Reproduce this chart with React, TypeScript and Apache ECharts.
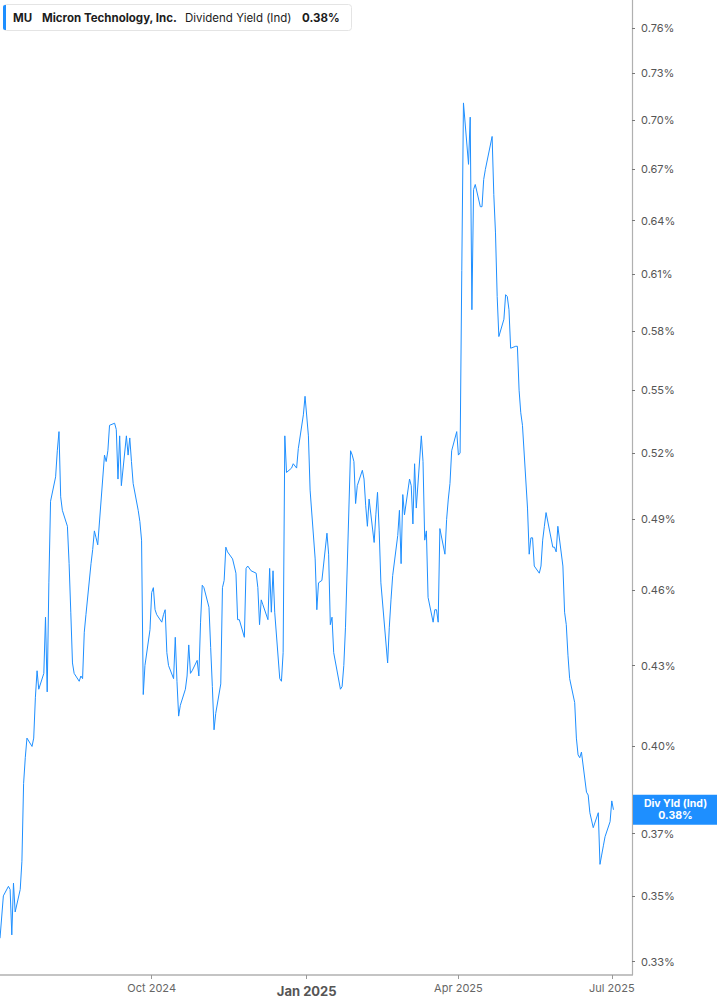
import {useEffect, useRef} from 'react';
import * as echarts from 'echarts';

// trading days, Jul 2024 - Jul 2025
const dates = [
    '2024-07-03', '2024-07-05', '2024-07-08', '2024-07-09', '2024-07-10', '2024-07-11', '2024-07-12',
    '2024-07-15', '2024-07-16', '2024-07-17', '2024-07-18', '2024-07-19', '2024-07-22', '2024-07-23',
    '2024-07-24', '2024-07-25', '2024-07-26', '2024-07-29', '2024-07-30', '2024-07-31',
    '2024-08-01', '2024-08-02', '2024-08-05', '2024-08-06', '2024-08-07', '2024-08-08', '2024-08-09',
    '2024-08-12', '2024-08-13', '2024-08-14', '2024-08-15', '2024-08-16', '2024-08-19', '2024-08-20',
    '2024-08-21', '2024-08-22', '2024-08-23', '2024-08-26', '2024-08-27', '2024-08-28', '2024-08-29',
    '2024-08-30',
    '2024-09-03', '2024-09-04', '2024-09-05', '2024-09-06', '2024-09-09', '2024-09-10', '2024-09-11',
    '2024-09-12', '2024-09-13', '2024-09-16', '2024-09-17', '2024-09-18', '2024-09-19', '2024-09-20',
    '2024-09-23', '2024-09-24', '2024-09-25', '2024-09-26', '2024-09-27', '2024-09-30',
    '2024-10-01', '2024-10-02', '2024-10-03', '2024-10-04', '2024-10-07', '2024-10-08', '2024-10-09',
    '2024-10-10', '2024-10-11', '2024-10-14', '2024-10-15', '2024-10-16', '2024-10-17', '2024-10-18',
    '2024-10-21', '2024-10-22', '2024-10-23', '2024-10-24', '2024-10-25', '2024-10-28', '2024-10-29',
    '2024-10-30', '2024-10-31',
    '2024-11-01', '2024-11-04', '2024-11-05', '2024-11-06', '2024-11-07', '2024-11-08', '2024-11-11',
    '2024-11-12', '2024-11-13', '2024-11-14', '2024-11-15', '2024-11-18', '2024-11-19', '2024-11-20',
    '2024-11-21', '2024-11-22', '2024-11-25', '2024-11-26', '2024-11-27', '2024-11-29',
    '2024-12-02', '2024-12-03', '2024-12-04', '2024-12-05', '2024-12-06', '2024-12-09', '2024-12-10',
    '2024-12-11', '2024-12-12', '2024-12-13', '2024-12-16', '2024-12-17', '2024-12-18', '2024-12-19',
    '2024-12-20', '2024-12-23', '2024-12-24', '2024-12-26', '2024-12-27', '2024-12-30', '2024-12-31',
    '2025-01-02', '2025-01-03', '2025-01-06', '2025-01-07', '2025-01-08', '2025-01-10', '2025-01-13',
    '2025-01-14', '2025-01-15', '2025-01-16', '2025-01-17', '2025-01-21', '2025-01-22', '2025-01-23',
    '2025-01-24', '2025-01-27', '2025-01-28', '2025-01-29', '2025-01-30', '2025-01-31',
    '2025-02-03', '2025-02-04', '2025-02-05', '2025-02-06', '2025-02-07', '2025-02-10', '2025-02-11',
    '2025-02-12', '2025-02-13', '2025-02-14', '2025-02-18', '2025-02-19', '2025-02-20', '2025-02-21',
    '2025-02-24', '2025-02-25', '2025-02-26', '2025-02-27', '2025-02-28',
    '2025-03-03', '2025-03-04', '2025-03-05', '2025-03-06', '2025-03-07', '2025-03-10', '2025-03-11',
    '2025-03-12', '2025-03-13', '2025-03-14', '2025-03-17', '2025-03-18', '2025-03-19', '2025-03-20',
    '2025-03-21', '2025-03-24', '2025-03-25', '2025-03-26', '2025-03-27', '2025-03-28', '2025-03-31',
    '2025-04-01', '2025-04-02', '2025-04-03', '2025-04-04', '2025-04-07', '2025-04-08', '2025-04-09',
    '2025-04-10', '2025-04-11', '2025-04-14', '2025-04-15', '2025-04-16', '2025-04-17', '2025-04-21',
    '2025-04-22', '2025-04-23', '2025-04-24', '2025-04-25', '2025-04-28', '2025-04-29', '2025-04-30',
    '2025-05-01', '2025-05-02', '2025-05-05', '2025-05-06', '2025-05-07', '2025-05-08', '2025-05-09',
    '2025-05-12', '2025-05-13', '2025-05-14', '2025-05-15', '2025-05-16', '2025-05-19', '2025-05-20',
    '2025-05-21', '2025-05-22', '2025-05-23', '2025-05-27', '2025-05-28', '2025-05-29', '2025-05-30',
    '2025-06-02', '2025-06-03', '2025-06-04', '2025-06-05', '2025-06-06', '2025-06-09', '2025-06-10',
    '2025-06-11', '2025-06-12', '2025-06-13', '2025-06-16', '2025-06-17', '2025-06-18', '2025-06-20',
    '2025-06-23', '2025-06-24', '2025-06-25', '2025-06-26', '2025-06-27', '2025-06-30',
    '2025-07-01', '2025-07-02'
];

// dividend yield (indicated), in %
const yields = [
    0.337, 0.350, 0.353, 0.352, 0.338, 0.354, 0.345, 0.352, 0.361, 0.387, 0.396, 0.403, 0.400, 0.403,
    0.418, 0.428, 0.421, 0.427, 0.449, 0.420,
    0.463, 0.498, 0.509, 0.521, 0.530, 0.500, 0.494, 0.487, 0.471, 0.451, 0.431, 0.427, 0.424, 0.426,
    0.425, 0.443, 0.450, 0.471, 0.477, 0.485, 0.482, 0.479,
    0.519, 0.516, 0.521, 0.533, 0.534, 0.531, 0.508, 0.528, 0.505, 0.528, 0.519, 0.527, 0.516, 0.506,
    0.494, 0.489, 0.481, 0.419, 0.430, 0.444,
    0.459, 0.461, 0.452, 0.450, 0.447, 0.450, 0.452, 0.435, 0.430, 0.425, 0.441, 0.424, 0.411, 0.415,
    0.421, 0.426, 0.438, 0.427, 0.428, 0.432, 0.426, 0.447, 0.462,
    0.461, 0.453, 0.437, 0.422, 0.406, 0.412, 0.423, 0.461, 0.464, 0.478, 0.476, 0.473, 0.470, 0.467,
    0.448, 0.448, 0.441, 0.469, 0.470, 0.468,
    0.467, 0.461, 0.446, 0.456, 0.454, 0.448, 0.469, 0.451, 0.468, 0.451, 0.425, 0.424, 0.435, 0.528,
    0.511, 0.513, 0.515, 0.513, 0.522, 0.538, 0.547,
    0.528, 0.503, 0.473, 0.452, 0.463, 0.464, 0.484, 0.475, 0.446, 0.449, 0.435, 0.421, 0.422, 0.430,
    0.445, 0.521, 0.519, 0.516, 0.497, 0.505,
    0.512, 0.508, 0.496, 0.487, 0.499, 0.480, 0.492, 0.502, 0.485, 0.463, 0.431, 0.445, 0.456, 0.466,
    0.483, 0.494, 0.471, 0.501, 0.492,
    0.508, 0.505, 0.488, 0.515, 0.495, 0.528, 0.516, 0.481, 0.485, 0.457, 0.447, 0.452, 0.452, 0.447,
    0.486, 0.475, 0.490, 0.499, 0.506, 0.521, 0.530,
    0.519, 0.520, 0.612, 0.711, 0.673, 0.702, 0.591, 0.658, 0.661, 0.648, 0.648, 0.664, 0.670, 0.690,
    0.655, 0.633, 0.598, 0.577, 0.586, 0.599, 0.598,
    0.591, 0.571, 0.572, 0.572, 0.550, 0.539, 0.533, 0.495, 0.475, 0.482, 0.482, 0.470, 0.467, 0.470,
    0.481, 0.487, 0.493, 0.478, 0.478, 0.476, 0.487,
    0.470, 0.451, 0.446, 0.434, 0.425, 0.416, 0.403, 0.397, 0.396, 0.398, 0.384, 0.383, 0.377, 0.372,
    0.377, 0.360, 0.363, 0.366, 0.369, 0.374,
    0.381, 0.378
];

const yTicks = [0.33, 0.35, 0.37, 0.40, 0.43, 0.46, 0.49, 0.52, 0.55, 0.58, 0.61, 0.64, 0.67, 0.70, 0.73, 0.76];
const xTicks = ['2024-10-01', '2025-01-01', '2025-04-01', '2025-07-01'];
const months = ['Jan', 'Feb', 'Mar', 'Apr', 'May', 'Jun', 'Jul', 'Aug', 'Sep', 'Oct', 'Nov', 'Dec'];

const BLUE = '#1e8fff';
const FONT = 'Inter, "Noto Sans", sans-serif';

const localTime = (d: string) => new Date(d + 'T00:00:00').getTime();

export default function App() {
    const ref = useRef<HTMLDivElement>(null);

    useEffect(() => {
        if (!ref.current) return;
        const chart = echarts.init(ref.current, null, {renderer: 'svg'});

        const last = yields[yields.length - 1];
        const lastText = last.toFixed(2) + '%';
        // x as timestamps on a value axis, y as ln(yield) so the scale is logarithmic
        const data = dates.map((d, i) => [localTime(d), Math.log(yields[i])]);
        const xTickValues = xTicks.map(localTime);
        const yTickValues = yTicks.map(v => Math.log(v));
        const headerText = {fontSize: 11.5, fontFamily: FONT, fill: '#1c1c1c', verticalAlign: 'middle'};

        chart.setOption({
            animation: false,
            textStyle: {fontFamily: FONT},
            grid: {left: 0, right: 85, top: 0, bottom: 30},
            xAxis: {
                type: 'value',
                min: localTime('2024-07-03'),
                max: localTime('2025-07-13'),
                axisLine: {lineStyle: {color: '#b0b0b0', width: 1.5}},
                axisTick: {customValues: xTickValues, length: 4, lineStyle: {color: '#999'}},
                axisLabel: {
                    customValues: xTickValues,
                    margin: 7,
                    formatter: (value: number) => {
                        const d = new Date(value);
                        const name = months[d.getMonth()] + ' ' + d.getFullYear();
                        return d.getMonth() === 0 ? '{year|' + name + '}' : '{reg|' + name + '}';
                    },
                    rich: {
                        reg: {fontSize: 11, color: '#666', fontFamily: FONT},
                        year: {fontSize: 13, fontWeight: 'bold', color: '#555', fontFamily: FONT, padding: [2, 0, 0, 0]}
                    }
                },
                splitLine: {show: false}
            },
            yAxis: {
                type: 'value',
                position: 'right',
                min: Math.log(0.3261),
                max: Math.log(0.7795),
                axisLine: {show: true, lineStyle: {color: '#b0b0b0', width: 1.2}},
                axisTick: {show: true, customValues: yTickValues, length: 3, lineStyle: {color: '#777'}},
                axisLabel: {
                    customValues: yTickValues,
                    margin: 9,
                    fontSize: 11,
                    color: '#555',
                    fontFamily: FONT,
                    formatter: (v: number) => Math.exp(v).toFixed(2) + '%'
                },
                splitLine: {show: false}
            },
            series: [{
                type: 'line',
                data,
                symbol: 'none',
                lineStyle: {color: BLUE, width: 1},
                markPoint: {
                    silent: true,
                    symbol: 'rect',
                    symbolSize: [85, 30],
                    itemStyle: {color: BLUE},
                    label: {
                        show: true,
                        position: 'inside',
                        formatter: 'Div Yld (Ind)\n' + lastText,
                        color: '#fff',
                        fontSize: 10.5,
                        fontWeight: 'bold',
                        lineHeight: 12,
                        fontFamily: FONT
                    },
                    data: [{coord: data[data.length - 1], x: 675.5}]
                }
            }],
            graphic: [
                {
                    type: 'rect',
                    shape: {x: 3.5, y: 4.5, width: 348, height: 26, r: 3},
                    style: {fill: '#fff', stroke: '#e4e4e4', lineWidth: 1}
                },
                {
                    type: 'rect',
                    shape: {x: 3, y: 5, width: 3, height: 25, r: [2, 0, 0, 2]},
                    style: {fill: BLUE}
                },
                {type: 'text', x: 13, y: 17.5, style: {...headerText, text: 'MU', fontWeight: 'bold'}},
                {type: 'text', x: 42, y: 17.5, style: {...headerText, text: 'Micron Technology, Inc.', fontWeight: 'bold'}},
                {type: 'text', x: 185, y: 17.5, style: {...headerText, text: 'Dividend Yield (Ind)'}},
                {type: 'text', x: 302, y: 17.5, style: {...headerText, text: lastText, fontWeight: 'bold'}}
            ]
        });

        return () => chart.dispose();
    }, []);

    return <div ref={ref} style={{position: 'absolute', left: 0, top: 0, width: 717, height: 1005}}/>;
}
